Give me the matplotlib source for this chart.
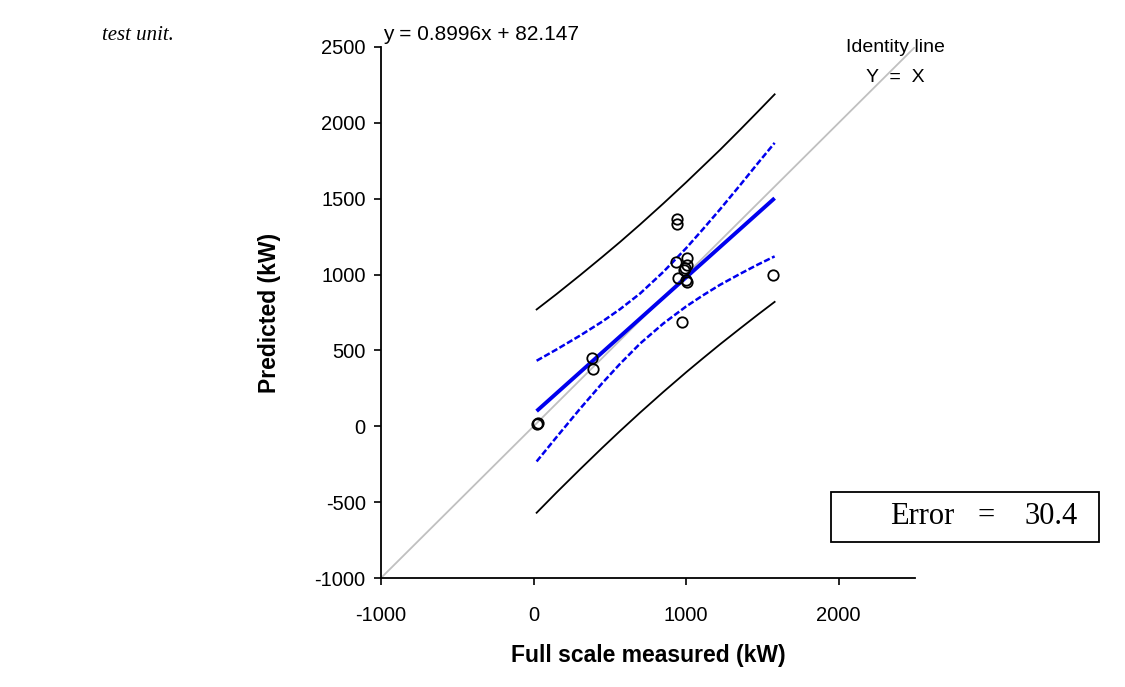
import matplotlib
matplotlib.use("Agg")
import matplotlib.pyplot as plt
from matplotlib.patches import Rectangle
import numpy as np

plt.rcParams['font.family'] = ['Liberation Sans', 'DejaVu Sans']
plt.rcParams['axes.unicode_minus'] = False

# ---- data ----
measured = [21, 30, 381, 388, 943, 943, 934, 1004, 993, 1004, 985, 945, 1004, 1000, 972, 1572]
predicted = [13, 20, 450, 380, 1364, 1331, 1083, 1112, 1046, 1061, 1030, 980, 951, 965, 688, 1000]

slope = 0.8996
intercept = 82.147
fit_x = [20, 1580]

band_x = [20, 150, 305, 450, 567, 698, 850, 1000, 1110, 1223, 1354, 1470, 1580]
conf_upper = [432, 506, 598, 690, 772, 875, 1017, 1174, 1299, 1431, 1590, 1734, 1868]
conf_lower = [-232, -72, 116, 284, 412, 545, 677, 790, 863, 933, 1005, 1066, 1120]
pred_upper = [770, 871, 996, 1116, 1215, 1330, 1468, 1608, 1714, 1823, 1955, 2074, 2188]
pred_lower = [-570, -437, -283, -142, -31, 90, 226, 356, 448, 541, 645, 736, 820]

identity = [-1000, 2500]
xticks = [-1000, 0, 1000, 2000]
yticks = [-1000, -500, 0, 500, 1000, 1500, 2000, 2500]

W, H = 1125, 687
fig = plt.figure(figsize=(W / 100, H / 100), dpi=100)
ax = fig.add_axes([381 / W, 1 - 578 / H, (915 - 381) / W, (578 - 47) / H])

ax.plot(identity, identity, color='#c0c0c0', lw=1.3, zorder=1)
ax.plot(band_x, pred_upper, color='black', lw=1.3, zorder=2)
ax.plot(band_x, pred_lower, color='black', lw=1.3, zorder=2)
ax.plot(band_x, conf_upper, color='#0000ee', lw=1.8, dashes=(2.5, 1.0), zorder=2)
ax.plot(band_x, conf_lower, color='#0000ee', lw=1.8, dashes=(2.5, 1.0), zorder=2)
fx = np.array(fit_x, dtype=float)
ax.plot(fx, slope * fx + intercept, color='#0000ee', lw=2.8, zorder=3, solid_capstyle='butt')
ax.plot(measured, predicted, 'o', mfc='none', mec='black', ms=7.5, mew=1.3, zorder=4)

ax.set_xlim(-1000, 2500)
ax.set_ylim(-1000, 2500)
ax.set_xticks(xticks)
ax.set_yticks(yticks)
ax.spines['top'].set_visible(False)
ax.spines['right'].set_visible(False)
for s in ['left', 'bottom']:
    ax.spines[s].set_linewidth(1.3)
ax.tick_params(direction='out', length=5, width=1.2, labelsize=14.5, pad=6)
ax.tick_params(axis='x', pad=15)
ax.set_xlabel('Full scale measured (kW)', fontsize=16.5, fontweight='bold', labelpad=14)
ax.set_ylabel('Predicted (kW)', fontsize=16.5, fontweight='bold', labelpad=24)

fig.text(383 / W, 1 - 35 / H, 'y = 0.8996x + 82.147', fontsize=15, ha='left', va='center')
fig.text(895 / W, 1 - 48 / H, 'Identity line', fontsize=14, ha='center', va='center')
fig.text(895 / W, 1 - 77 / H, 'Y  =  X', fontsize=14, ha='center', va='center')
fig.text(102 / W, 1 - 36 / H, 'test unit.', fontsize=15, ha='left', va='center',
         family='Liberation Serif', style='italic')

rect = Rectangle((831 / W, 1 - 542 / H), (1099 - 831) / W, (542 - 492) / H,
                 transform=fig.transFigure, fill=False, ec='black', lw=1.3)
fig.patches.append(rect)
fig.text(890 / W, 1 - 516 / H, 'Error', fontsize=22, ha='left', va='center', family='Liberation Serif')
fig.text(986 / W, 1 - 516 / H, '=', fontsize=22, ha='center', va='center', family='Liberation Serif')
fig.text(1078 / W, 1 - 516 / H, '30.4', fontsize=22, ha='right', va='center', family='Liberation Serif')

fig.savefig('out.png', dpi=100)
